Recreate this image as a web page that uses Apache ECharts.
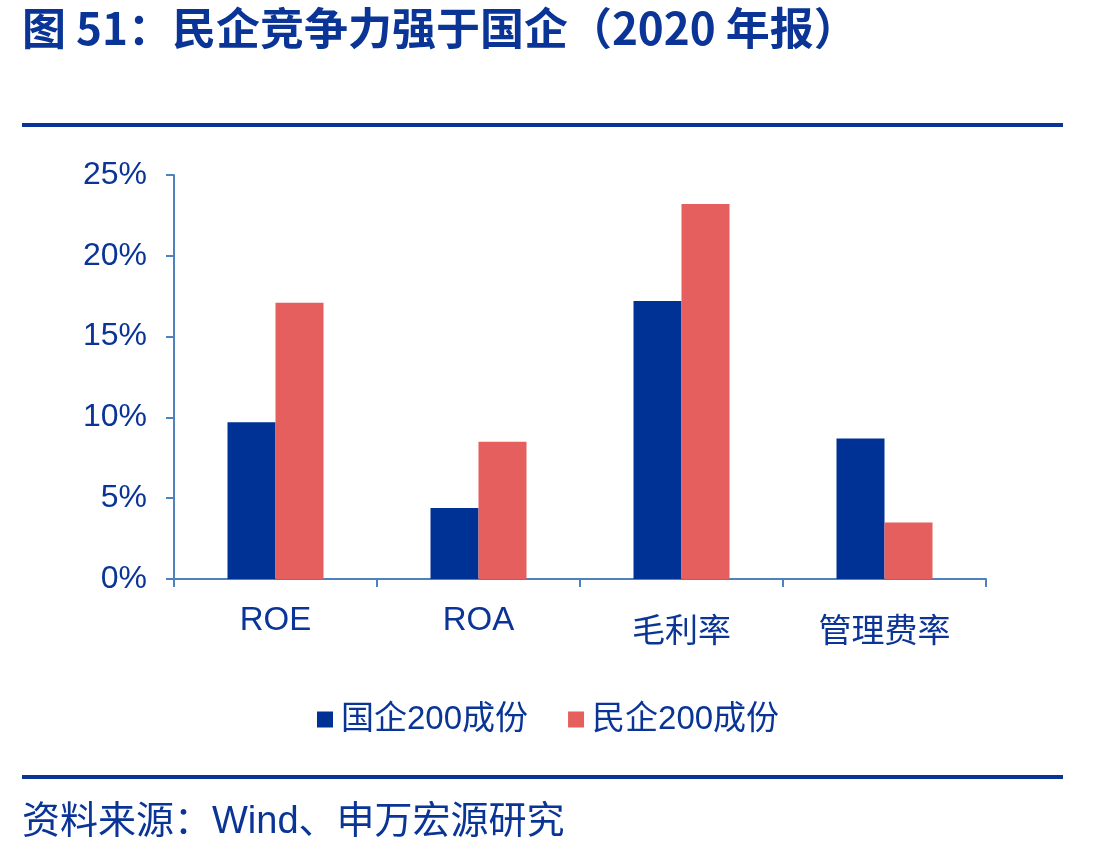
<!DOCTYPE html>
<html>
<head>
<meta charset="utf-8">
<script src="https://cdn.jsdelivr.net/npm/echarts@6/dist/echarts.min.js"></script>
<style>
    html, body { margin: 0; padding: 0; background: #fff; }
    #main { width: 1110px; height: 854px; }
</style>
</head>
<body>
<div id="main"></div>
<script>
var categories = ['ROE', 'ROA', '毛利率', '管理费率']
var soeValues = [9.7, 4.4, 17.2, 8.7]      // 国企200成份
var privValues = [17.1, 8.5, 23.2, 3.5]    // 民企200成份
var seriesNames = ['国企200成份', '民企200成份']

var textBlue = '#0a3597'
var axisBlue = '#4f81bd'
var font = '"Liberation Sans", "Noto Sans CJK SC", sans-serif'

var myChart = echarts.init(document.getElementById('main'))

var option = {
    backgroundColor: '#fff',
    animation: false,
    textStyle: { fontFamily: font },
    grid: {
        left: 174,
        right: 124,
        top: 175,
        bottom: 275
    },
    legend: {
        data: seriesNames,
        left: 312,
        top: 698,
        itemWidth: 16,
        itemHeight: 16,
        itemGap: 40,
        icon: 'rect',
        textStyle: {
            color: textBlue,
            fontSize: 33,
            fontFamily: font,
            padding: [0, 0, 0, 3]
        }
    },
    xAxis: {
        type: 'category',
        data: categories,
        axisLine: { lineStyle: { color: axisBlue, width: 2 } },
        axisTick: { show: true, interval: 0, length: 8, lineStyle: { color: axisBlue, width: 2 } },
        axisLabel: {
            interval: 0,
            color: textBlue,
            fontSize: 33,
            margin: 25,
            // 中文标签在原图里比英文低一点
            formatter: function (v) {
                return /[^\x00-\x7f]/.test(v) ? '{cn|' + v + '}' : v
            },
            rich: {
                cn: {
                    color: textBlue,
                    fontSize: 33,
                    padding: [12, 0, 0, 0]
                }
            }
        }
    },
    yAxis: {
        type: 'value',
        min: 0,
        max: 25,
        interval: 5,
        axisLine: { show: true, lineStyle: { color: axisBlue, width: 2 } },
        axisTick: { show: true, length: 8, lineStyle: { color: axisBlue, width: 2 } },
        splitLine: { show: false },
        axisLabel: {
            color: textBlue,
            fontSize: 32,
            margin: 27,
            formatter: '{value}%'
        }
    },
    series: [
        {
            name: seriesNames[0],
            type: 'bar',
            data: soeValues,
            barWidth: 48,
            barGap: '0%',
            itemStyle: { color: '#003296' }
        },
        {
            name: seriesNames[1],
            type: 'bar',
            data: privValues,
            barWidth: 48,
            barGap: '0%',
            itemStyle: { color: '#e55f5f' }
        }
    ],
    graphic: [
        {
            type: 'text',
            left: 22,
            top: 6,
            style: {
                text: '图 51：民企竞争力强于国企（2020 年报）',
                fill: '#0a3597',
                font: 'bold 44px "Noto Sans CJK SC", sans-serif'
            }
        },
        {
            type: 'rect',
            shape: { x: 22, y: 123, width: 1041, height: 4 },
            style: { fill: '#0a3597' }
        },
        {
            type: 'rect',
            shape: { x: 22, y: 775, width: 1041, height: 4 },
            style: { fill: '#0a3597' }
        },
        {
            type: 'text',
            left: 22,
            top: 804,
            style: {
                text: '资料来源：Wind、申万宏源研究',
                fill: textBlue,
                font: '38px "Liberation Sans", "Noto Sans CJK SC", sans-serif'
            }
        }
    ]
}
option && myChart.setOption(option)
</script>
</body>
</html>
